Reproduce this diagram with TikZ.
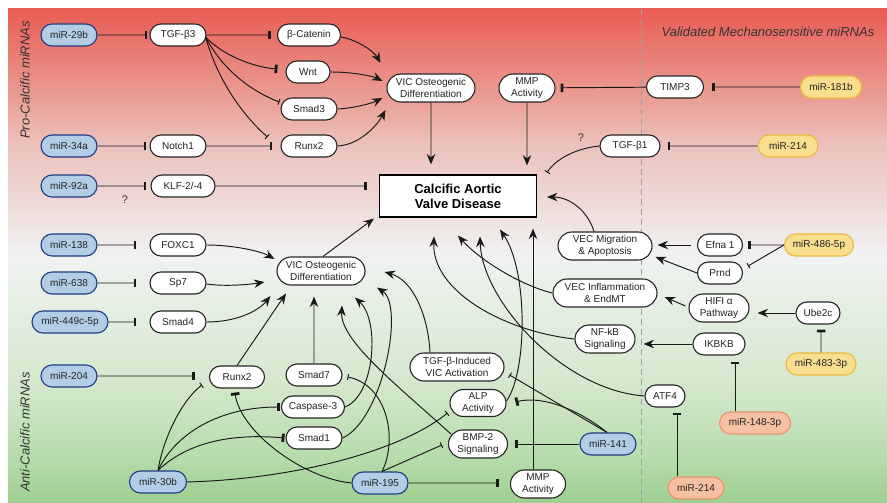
\documentclass[tikz,border=0pt]{standalone}
\usepackage{fontspec}
\setmainfont{Liberation Sans}
\usetikzlibrary{arrows.meta,shapes.misc,calc}

\definecolor{mirblue}{RGB}{180,205,230}
\definecolor{mirblueD}{RGB}{30,60,130}
\definecolor{miryel}{RGB}{248,222,142}
\definecolor{miryelD}{RGB}{235,185,60}
\definecolor{miror}{RGB}{246,192,163}
\definecolor{mirorD}{RGB}{232,145,108}
\definecolor{txt}{RGB}{35,35,35}
\definecolor{bgA}{RGB}{158,207,143}
\definecolor{bgB}{RGB}{186,221,176}
\definecolor{bgC}{RGB}{213,232,206}
\definecolor{bgD}{RGB}{230,239,228}
\definecolor{bgE}{RGB}{240,242,242}
\definecolor{bgF}{RGB}{238,216,213}
\definecolor{bgG}{RGB}{236,194,189}
\definecolor{bgH}{RGB}{234,152,142}
\definecolor{bgI}{RGB}{232,92,84}
\pgfdeclareverticalshading{bgsh}{100bp}{color(0bp)=(bgA); color(25bp)=(bgA); color(30.4bp)=(bgB); color(37.4bp)=(bgC); color(45.5bp)=(bgD); color(50.1bp)=(bgE); color(55.7bp)=(bgF); color(61.2bp)=(bgG); color(66.8bp)=(bgH); color(75bp)=(bgI); color(100bp)=(bgI)}

\begin{document}
\begin{tikzpicture}[x=1pt,y=-1pt,
  pill/.style={rounded rectangle, draw, line width=1.1pt, minimum height=22pt, inner xsep=3pt, inner ysep=1pt, font=\fontsize{10}{11.5}\selectfont, align=center, text=txt},
  wn/.style={pill, fill=white, draw=black!85},
  wn2/.style={wn, minimum height=28pt},
  mb/.style={pill, fill=mirblue, draw=mirblueD, minimum width=62pt},
  my/.style={pill, fill=miryel, draw=miryelD},
  mo/.style={pill, fill=miror, draw=mirorD},
  conn/.style={line width=0.95pt, draw=black!90},
  act/.style={conn, -{Stealth[length=10.5pt,width=8.5pt,inset=3.5pt]}},
  inh/.style={conn, -{Bar[width=8.5pt,line width=2.8pt]}},
  inhs/.style={conn, -{Bar[width=6pt,line width=1pt]}},
  lbl/.style={font=\fontsize{13}{15}\selectfont\itshape, text=black!80},
  qm/.style={font=\fontsize{11}{13}\selectfont, text=black!80}
]
\useasboundingbox (0,0) rectangle (887,503);
\shade[shading=bgsh] (8,9) rectangle (887,503);
\draw[gray!75, line width=1pt, dash pattern=on 6pt off 4pt] (641,9) -- (641,503);

% labels
\node[lbl] (vtitle) at (768,32) {Validated Mechanosensitive miRNAs};
\node[lbl, rotate=90] (ptitle) at (25,80) {Pro-Calcific miRNAs};
\node[lbl, rotate=90] (atitle) at (25,432) {Anti-Calcific miRNAs};

% blue miRNAs
\node[mb] (m29b) at (69,35) {miR-29b};
\node[mb] (m34a) at (69,146) {miR-34a};
\node[mb] (m92a) at (69,186) {miR-92a};
\node[mb] (m138) at (69,245) {miR-138};
\node[mb] (m638) at (69,283) {miR-638};
\node[mb, minimum width=82pt] (m449) at (70,322) {miR-449c-5p};
\node[mb] (m204) at (69,376) {miR-204};
\node[mb, minimum width=63pt] (m30b) at (158,482) {miR-30b};
\node[mb] (m195) at (380,483) {miR-195};
\node[mb] (m141) at (608,444) {miR-141};
% yellow
\node[my, minimum width=67pt] (m181b) at (831,87) {miR-181b};
\node[my, minimum width=66pt] (m214a) at (788,146) {miR-214};
\node[my, minimum width=75pt] (m486) at (819,245) {miR-486-5p};
\node[my, minimum width=76pt] (m483) at (821,364) {miR-483-3p};
% orange
\node[mo, minimum width=77pt] (m148) at (755,423) {miR-148-3p};
\node[mo, minimum width=62pt] (m214b) at (696,488) {miR-214};

% white nodes
\node[wn, minimum width=62pt] (tgfb3) at (178,35) {TGF-β3};
\node[wn, minimum width=69pt] (bcat) at (309,35) {β-Catenin};
\node[wn, minimum width=50pt] (wnt) at (308,72) {Wnt};
\node[wn, minimum width=62pt] (smad3) at (309,109) {Smad3};
\node[wn, minimum width=62pt] (runx2a) at (309,146) {Runx2};
\node[wn, minimum width=62pt] (notch1) at (178,146) {Notch1};
\node[wn2, minimum width=94pt] (vicA) at (431,88) {VIC Osteogenic\\Differentiation};
\node[wn2, minimum width=62pt] (mmpA) at (527,88) {MMP\\Activity};
\node[wn, minimum width=63pt] (timp3) at (675,87) {TIMP3};
\node[wn, minimum width=66pt] (tgfb1) at (630,146) {TGF-β1};
\node[draw, fill=white, line width=1.1pt, minimum width=157pt, minimum height=42pt, font=\fontsize{13}{15}\selectfont\bfseries, align=center, text=black] (cavd) at (458,196) {Calcific Aortic\\Valve Disease};
\node[wn, minimum width=70pt] (klf) at (183,186) {KLF-2/-4};
\node[wn, minimum width=62pt] (foxc1) at (178,245) {FOXC1};
\node[wn, minimum width=62pt] (sp7) at (178,283) {Sp7};
\node[wn, minimum width=62pt] (smad4) at (178,322) {Smad4};
\node[wn2, minimum width=94pt] (vicB) at (321,271) {VIC Osteogenic\\Differentiation};
\node[wn2, minimum width=100pt] (vecmig) at (605,246) {VEC Migration\\\& Apoptosis};
\node[wn, minimum width=51pt] (efna1) at (720,245) {Efna 1};
\node[wn, minimum width=51pt] (prnd) at (720,273) {Prnd};
\node[wn2, minimum width=110pt] (vecinf) at (605,293) {VEC Inflammation\\\& EndMT};
\node[wn2, minimum width=66pt] (hif) at (719,308) {HIFI α\\Pathway};
\node[wn, minimum width=50pt] (ube2c) at (818,313) {Ube2c};
\node[wn2, minimum width=66pt] (nfkb) at (605,339) {NF-kB\\Signaling};
\node[wn, minimum width=58pt] (ikbkb) at (719,344) {IKBKB};
\node[wn, minimum width=46pt] (atf4) at (665,396) {ATF4};
\node[wn2, minimum width=100pt] (tgfind) at (457,367) {TGF-β-Induced\\VIC Activation};
\node[wn2, minimum width=62pt, minimum height=27pt] (alp) at (478,403) {ALP\\Activity};
\node[wn2, minimum width=65pt] (bmp2) at (478,444) {BMP-2\\Signaling};
\node[wn2, minimum width=61pt] (mmpB) at (538,484) {MMP\\Activity};
\node[wn, minimum width=61pt] (runx2b) at (237,377) {Runx2};
\node[wn, minimum width=62pt] (smad7) at (314,375) {Smad7};
\node[wn, minimum width=69pt] (casp3) at (313,407) {Caspase-3};
\node[wn, minimum width=62pt] (smad1) at (314,438) {Smad1};

\node[qm] (q1) at (581,138) {?};
\node[qm] (q2) at (125,200) {?};

% ---- top-left edges
\draw[inh, shorten >=2pt] (m29b) -- (tgfb3);
\draw[inh, shorten >=6pt] (tgfb3) -- (bcat);
\coordinate (t3o) at ($(tgfb3.east)+(-1,2)$);
\draw[inh] (t3o) .. controls +(17,18) and +(-25,-2) .. ($(wnt.west)+(-8,-3)$);
\draw[inhs] (t3o) .. controls +(17,33) and +(-27,-10) .. ($(smad3.west)+(-1,-7)$);
\draw[inhs] (t3o) .. controls +(12,43) and +(-25,-22) .. ($(runx2a.west)+(-13,-9)$);
\draw[inh, shorten >=3pt] (m34a) -- (notch1);
\draw[inh, shorten >=8pt] (notch1) -- (runx2a);

\draw[act] ($(bcat.east)+(0,2)$) .. controls +(17,3) and +(-6,-11) .. ($(vicA.west)+(-6,-25)$);
\draw[act] (wnt.east) .. controls +(22,0) and +(-10,-5) .. ($(vicA.west)+(-4,-7)$);
\draw[act] (smad3.east) .. controls +(18,-1) and +(-10,5) .. ($(vicA.west)+(-4,10)$);
\draw[act] (runx2a.east) .. controls +(22,-1) and +(-8,15) .. ($(vicA.west)+(-1,22)$);

\draw[act, shorten >=10pt] (vicA) -- (vicA |- cavd.north);
\draw[act, shorten >=9pt] (mmpA) -- (mmpA |- cavd.north);
\draw[inh, shorten >=5pt] (timp3) -- (mmpA);
\draw[inh, shorten >=8pt] (m181b) -- (timp3);
\draw[inh, shorten >=7pt] (m214a) -- (tgfb1);
\draw[inhs] (tgfb1.west) .. controls +(-22,2) and +(9,-14) .. ($(cavd.north east)+(10,-2)$);

\draw[inh, shorten >=4pt] (m92a) -- (klf);
\draw[inh, shorten >=12pt] (klf) -- (klf -| cavd.west);

% ---- middle-left
\draw[inh, shorten >=13pt] (m138) -- (foxc1);
\draw[inh, shorten >=13pt] (m638) -- (sp7);
\draw[inh, shorten >=13pt] (m449) -- (smad4);
\draw[act] (foxc1.east) .. controls +(26,0) and +(-14,-8) .. ($(vicB.west)+(-2,-12)$);
\draw[act] ($(sp7.east)+(0,1)$) .. controls +(21,3) and +(-12,2) .. ($(vicB.west)+(-12,11)$);
\draw[act] (smad4.east) .. controls +(30,0) and +(-12,15) .. ($(vicB.west)+(-6,25)$);
\draw[act] ($(vicB.north)+(2,0)$) -- ($(cavd.south west)+(-5,1)$);

\draw[act] (runx2b.north) -- ($(vicB.south)+(-35,8)$);
\draw[act, shorten >=11pt] (smad7) -- (smad7 |- vicB.south);
\draw[act] ($(bmp2.west)+(3,-10)$) .. controls +(-54,-49) and +(-2,35) .. ($(vicB.south)+(21,20)$);
\draw[act] (casp3.east) .. controls +(30,-12) and +(25,23) .. ($(vicB.south)+(34,12)$);
\draw[act] (smad1.east) .. controls +(40,-18) and +(28,18) .. ($(vicB.south)+(56,2)$);
\draw[act] ($(tgfind.north)+(-27,0)$) .. controls +(-2,-38) and +(28,8) .. ($(vicB.east)+(19,1)$);

% ---- into CAVD from below
\coordinate (mmv) at ($(mmpB.north)+(-5,0)$);
\draw[act, shorten >=11pt] (mmv) -- (mmv |- cavd.south);
\draw[act] ($(alp.east)+(0,-2)$) .. controls +(21,-30) and +(28,41) .. ($(cavd.south)+(42,12)$);
\draw[act] (atf4.west) .. controls +(-82,-6) and +(2,64) .. ($(cavd.south)+(22,19)$);
\draw[act] (vecinf.west) .. controls +(-30,-7) and +(22,25) .. ($(cavd.south)+(0,18)$);
\draw[act] (nfkb.west) .. controls +(-72,-8) and +(-2,54) .. ($(cavd.south)+(-24,19)$);
\draw[act] ($(vecmig.north)+(-11,0)$) .. controls +(-6,-20) and +(23,0) .. ($(cavd.east)+(10,1)$);

% ---- right side
\draw[act, shorten <=6pt, shorten >=5pt] (efna1) -- (efna1 -| vecmig.east);
\draw[act] (prnd.west) -- ($(vecmig.east)+(3,11)$);
\draw[inh, shorten >=5pt] (m486) -- (efna1);
\draw[inhs] (m486.west) -- ($(prnd.east)+(5,-7)$);
\draw[act] ($(hif.west)+(-3,-2)$) -- ($(vecinf.east)+(7,4)$);
\draw[act, shorten >=8pt] (ube2c) -- (ube2c -| hif.east);
\draw[act, shorten >=8pt] (ikbkb) -- (ikbkb -| nfkb.east);
\draw[inh, shorten >=5pt] (m483) -- (m483 |- ube2c.south);
\coordinate (c148) at ($(m148.north)+(-20,0)$);
\draw[inh, shorten >=6pt] (c148) -- (c148 |- ikbkb.south);
\coordinate (c214) at ($(m214b.north)+(-19,0)$);
\draw[inh, shorten >=5pt] (c214) -- (c214 |- atf4.south);

% ---- bottom
\draw[inh, shorten >=14pt] (m204) -- (m204 -| runx2b.west);
\coordinate (t30) at (m30b.north);
\draw[inhs] (t30) .. controls +(5,-32) and +(-20,15) .. ($(runx2b.west)+(-7,8)$);
\draw[inh, shorten >=1pt] (t30) .. controls +(17,-36) and +(-63,0) .. (casp3.west);
\draw[inh] (t30) .. controls +(22,-21) and +(-67,-6) .. ($(smad1.west)+(-1,0)$);
\draw[inhs] (m30b.east) .. controls +(110,-3) and +(-45,37) .. ($(alp.west)+(-2,10)$);
\coordinate (t195) at ($(m195.north)+(2,0)$);
\draw[inhs] (t195) -- ($(bmp2.west)+(-6,1)$);
\draw[inhs] (t195) .. controls +(16,-32) and +(40,8) .. ($(smad7.east)+(5,2)$);
\draw[inh] (m195.west) .. controls +(-50,-5) and +(5,38) .. ($(runx2b.south)+(-2,4)$);
\draw[inh, shorten >=11pt] (m195) -- (m195 -| mmpB.west);
\draw[inh, shorten >=7pt] (m141) -- (m141 -| bmp2.east);
\coordinate (t141) at ($(m141.north)+(-1,0)$);
\draw[inh] (t141) .. controls +(-27,-22) and +(27,-7) .. ($(alp.east)+(9,-1)$);
\draw[inhs] (t141) -- ($(tgfind.east)+(5,8)$);
\end{tikzpicture}
\end{document}
